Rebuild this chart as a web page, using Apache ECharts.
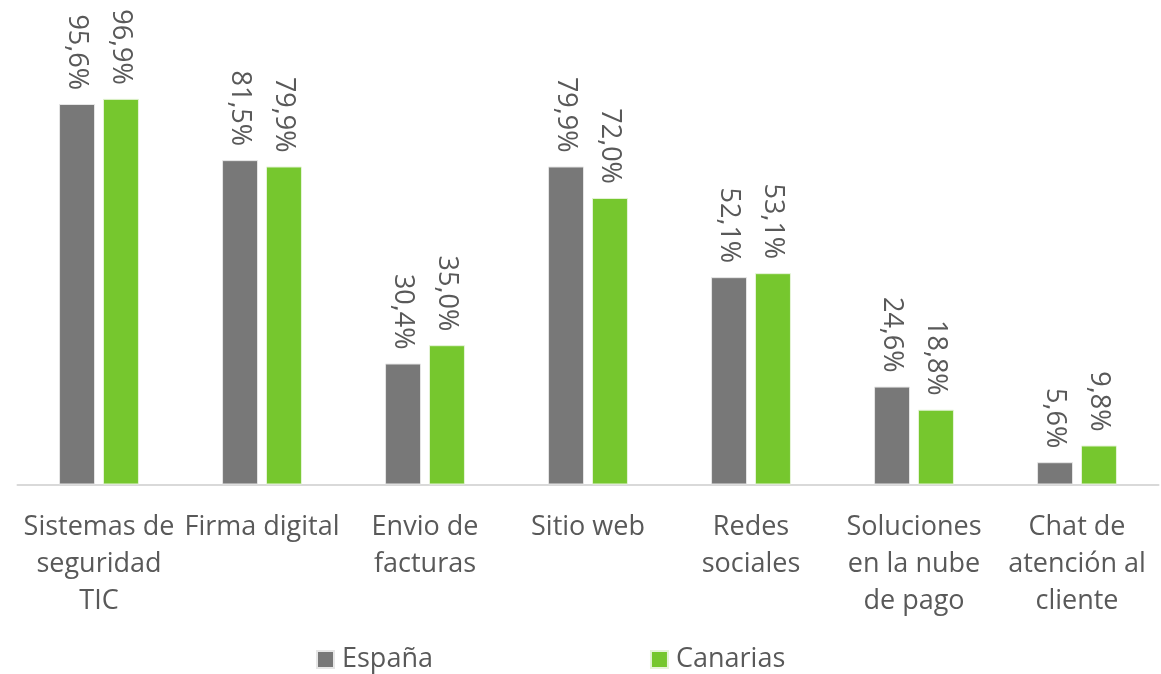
<!DOCTYPE html>
<html>
<head>
<meta charset="utf-8">
<script src="https://cdn.jsdelivr.net/npm/echarts@6/dist/echarts.min.js"></script>
<style>
	html, body { margin: 0; padding: 0; background: #fff; }
	#chart { width: 1161px; height: 674px; }
</style>
</head>
<body>
<div id="chart"></div>
<script>
var categories = ['Sistemas de\nseguridad\nTIC', 'Firma digital', 'Envio de\nfacturas', 'Sitio web', 'Redes\nsociales', 'Soluciones\nen la nube\nde pago', 'Chat de\natención al\ncliente'];
var espana = [95.6, 81.5, 30.4, 79.9, 52.1, 24.6, 5.6];
var canarias = [96.9, 79.9, 35.0, 72.0, 53.1, 18.8, 9.8];

var chart = echarts.init(document.getElementById('chart'));
var font = '"Open Sans", "Noto Sans", sans-serif';

function pct(p) {
	return p.value.toFixed(1).replace('.', ',') + '%';
}

var barLabel = {
	show: true,
	position: 'top',
	rotate: -90,
	align: 'right',
	verticalAlign: 'middle',
	distance: 14,
	formatter: pct,
	color: '#595959',
	fontSize: 27,
	fontFamily: font
};

chart.setOption({
	animation: false,
	grid: { // plot area
		left: 17.5,
		right: 2.5,
		top: 86.5,
		bottom: 189.5
	},
	legend: {
		data: ['España', 'Canarias'],
		left: 311,
		top: 641,
		itemWidth: 17,
		itemHeight: 17,
		itemGap: 217,
		icon: 'rect',
		textStyle: {
			color: '#595959',
			fontSize: 27,
			fontFamily: font,
			padding: [0, 0, 0, 3]
		}
	},
	xAxis: {
		type: 'category',
		data: categories,
		axisLine: { lineStyle: { color: '#d9d9d9', width: 2 } },
		axisTick: { show: false },
		axisLabel: {
			interval: 0,
			margin: 24,
			color: '#595959',
			fontSize: 27,
			lineHeight: 37,
			fontFamily: font
		}
	},
	yAxis: {
		type: 'value',
		min: 0,
		max: 100,
		show: false,
		splitLine: { show: false }
	},
	series: [{
		name: 'España',
		type: 'bar',
		data: espana,
		barWidth: 36,
		barGap: '22%',
		itemStyle: { color: '#787878', borderColor: '#e6e6e6', borderWidth: 1 },
		label: barLabel
	}, {
		name: 'Canarias',
		type: 'bar',
		data: canarias,
		barWidth: 36,
		itemStyle: { color: '#76c72e', borderColor: '#e6f4d9', borderWidth: 1 },
		label: barLabel
	}]
});
</script>
</body>
</html>
